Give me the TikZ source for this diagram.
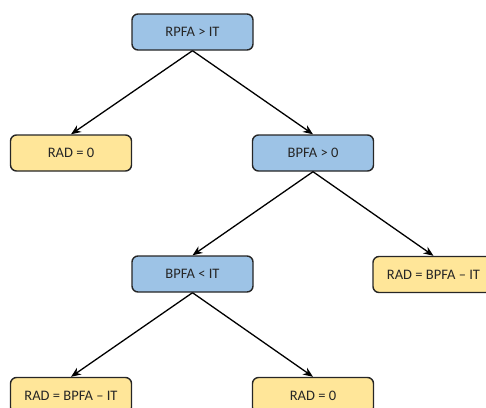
\documentclass[tikz,border=0pt]{standalone}
\usepackage{fontspec}
\setmainfont{Carlito}
\usetikzlibrary{arrows.meta}
\definecolor{testblue}{HTML}{9DC3E6}
\definecolor{resultyellow}{HTML}{FFE699}

\begin{document}
\begin{tikzpicture}[x=1pt, y=-1pt,
  test/.style={draw=black!85, line width=1.4pt, rounded corners=6pt,
    fill=testblue, minimum width=121pt, minimum height=36pt,
    font=\fontsize{14.5}{16}\selectfont, text=black!85},
  result/.style={test, fill=resultyellow},
  branch/.style={-{Stealth[length=10pt,width=8pt]}, line width=1.3pt}
]
  \path[use as bounding box, clip] (0,0) rectangle (486,407);

  \node[test] (rpfa) at (192.5,32) {RPFA > IT};
  \node[result] (rad1) at (71,153) {RAD = 0};
  \node[test] (bpfa0) at (313,153) {BPFA > 0};
  \node[test] (bpfait) at (192.5,274) {BPFA < IT};
  \node[result] (rad2) at (433.5,274.5) {RAD = BPFA -- IT};
  \node[result] (rad3) at (71,395.5) {RAD = BPFA -- IT};
  \node[result] (rad4) at (313,395.5) {RAD = 0};

  \draw[branch] (rpfa.south) -- (rad1.north);
  \draw[branch] (rpfa.south) -- (bpfa0.north);
  \draw[branch] (bpfa0.south) -- (bpfait.north);
  \draw[branch] (bpfa0.south) -- (rad2.north);
  \draw[branch] (bpfait.south) -- (rad3.north);
  \draw[branch] (bpfait.south) -- (rad4.north);
\end{tikzpicture}
\end{document}
